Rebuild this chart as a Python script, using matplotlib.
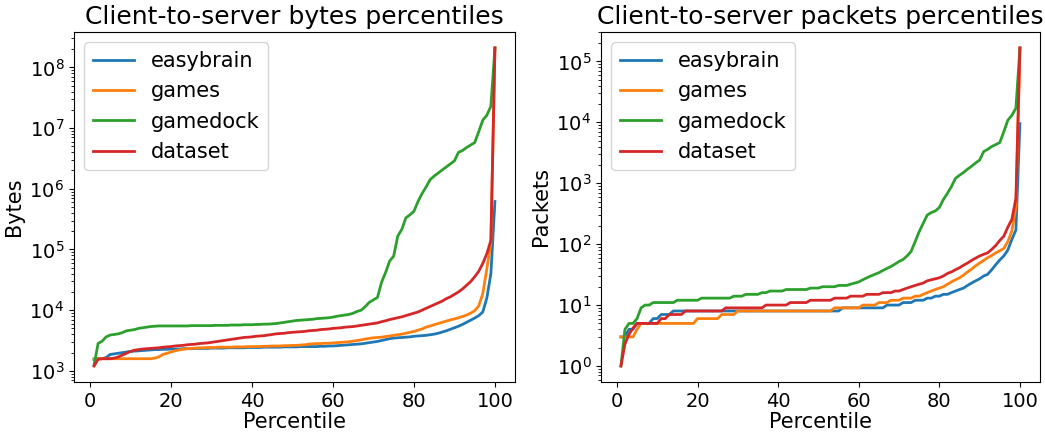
import numpy as np
import matplotlib
matplotlib.use("Agg")
import matplotlib.pyplot as plt

# percentiles 1..100
percentiles = list(range(1, 101))
series_names = ["easybrain", "games", "gamedock", "dataset"]

# client-to-server bytes as log10(bytes)
easybrain_bytes_log10 = [
    3.19, 3.20, 3.20, 3.22, 3.27, 3.28, 3.29, 3.30, 3.31, 3.32,
    3.325, 3.33, 3.335, 3.34, 3.345, 3.35, 3.35, 3.355, 3.355, 3.36,
    3.36, 3.36, 3.365, 3.365, 3.365, 3.37, 3.37, 3.37, 3.37, 3.375,
    3.375, 3.375, 3.375, 3.38, 3.38, 3.38, 3.38, 3.38, 3.385, 3.385,
    3.385, 3.385, 3.39, 3.39, 3.39, 3.39, 3.39, 3.395, 3.395, 3.395,
    3.395, 3.40, 3.40, 3.40, 3.40, 3.40, 3.405, 3.405, 3.41, 3.41,
    3.415, 3.42, 3.425, 3.43, 3.435, 3.44, 3.445, 3.455, 3.465, 3.475,
    3.485, 3.50, 3.515, 3.53, 3.54, 3.545, 3.55, 3.555, 3.56, 3.57,
    3.575, 3.58, 3.585, 3.595, 3.605, 3.62, 3.64, 3.66, 3.685, 3.71,
    3.735, 3.765, 3.80, 3.835, 3.87, 3.91, 3.97, 4.20, 4.60, 5.79]
games_bytes_log10 = [
    3.20, 3.20, 3.20, 3.20, 3.20, 3.20, 3.20, 3.20, 3.20, 3.20,
    3.20, 3.20, 3.20, 3.20, 3.20, 3.21, 3.23, 3.27, 3.29, 3.31,
    3.33, 3.345, 3.355, 3.365, 3.37, 3.375, 3.38, 3.38, 3.385, 3.385,
    3.385, 3.39, 3.39, 3.39, 3.39, 3.395, 3.395, 3.395, 3.40, 3.40,
    3.40, 3.40, 3.405, 3.405, 3.41, 3.41, 3.41, 3.415, 3.415, 3.42,
    3.42, 3.425, 3.43, 3.44, 3.445, 3.45, 3.45, 3.455, 3.455, 3.46,
    3.465, 3.47, 3.475, 3.48, 3.49, 3.50, 3.51, 3.525, 3.535, 3.545,
    3.55, 3.555, 3.565, 3.575, 3.585, 3.595, 3.605, 3.62, 3.635, 3.65,
    3.67, 3.69, 3.72, 3.74, 3.76, 3.78, 3.80, 3.82, 3.84, 3.855,
    3.875, 3.895, 3.92, 3.95, 3.99, 4.07, 4.27, 4.68, 5.10, 8.32]
gamedock_bytes_log10 = [
    3.09, 3.45, 3.49, 3.56, 3.59, 3.60, 3.61, 3.63, 3.66, 3.67,
    3.68, 3.70, 3.71, 3.72, 3.73, 3.735, 3.74, 3.74, 3.74, 3.74,
    3.74, 3.74, 3.74, 3.74, 3.745, 3.745, 3.745, 3.745, 3.745, 3.745,
    3.75, 3.75, 3.75, 3.75, 3.755, 3.755, 3.755, 3.76, 3.76, 3.76,
    3.765, 3.765, 3.77, 3.77, 3.775, 3.78, 3.79, 3.80, 3.81, 3.82,
    3.83, 3.835, 3.84, 3.845, 3.85, 3.86, 3.865, 3.87, 3.875, 3.885,
    3.90, 3.91, 3.92, 3.93, 3.95, 3.98, 4.00, 4.06, 4.13, 4.17,
    4.21, 4.46, 4.62, 4.81, 4.89, 5.22, 5.33, 5.52, 5.57, 5.63,
    5.79, 5.92, 6.03, 6.15, 6.21, 6.26, 6.31, 6.36, 6.41, 6.46,
    6.60, 6.63, 6.68, 6.72, 6.76, 6.94, 7.13, 7.21, 7.36, 8.32]
dataset_bytes_log10 = [
    3.08, 3.19, 3.20, 3.20, 3.20, 3.21, 3.23, 3.26, 3.29, 3.32,
    3.34, 3.35, 3.36, 3.365, 3.37, 3.375, 3.38, 3.39, 3.395, 3.40,
    3.41, 3.415, 3.42, 3.43, 3.435, 3.44, 3.45, 3.455, 3.46, 3.47,
    3.48, 3.49, 3.50, 3.51, 3.52, 3.53, 3.54, 3.55, 3.555, 3.56,
    3.57, 3.575, 3.58, 3.59, 3.60, 3.61, 3.615, 3.62, 3.63, 3.635,
    3.64, 3.645, 3.65, 3.66, 3.665, 3.67, 3.68, 3.685, 3.69, 3.70,
    3.705, 3.71, 3.72, 3.725, 3.73, 3.74, 3.75, 3.76, 3.77, 3.78,
    3.79, 3.81, 3.825, 3.845, 3.86, 3.875, 3.89, 3.91, 3.93, 3.95,
    3.97, 4.00, 4.03, 4.06, 4.09, 4.12, 4.15, 4.19, 4.22, 4.26,
    4.30, 4.35, 4.41, 4.47, 4.55, 4.64, 4.77, 4.93, 5.15, 8.32]

# client-to-server packets
easybrain_packets = [
    3, 3, 4, 4, 5, 5, 5, 5, 6, 6,
    7, 7, 7, 8, 8, 8, 8, 8, 8, 8,
    8, 8, 8, 8, 8, 8, 8, 8, 8, 8,
    8, 8, 8, 8, 8, 8, 8, 8, 8, 8,
    8, 8, 8, 8, 8, 8, 8, 8, 8, 8,
    8, 8, 8, 8, 8, 9, 9, 9, 9, 9,
    9, 9, 9, 9, 9, 9, 10, 10, 10, 10,
    11, 11, 11, 12, 12, 12, 13, 13, 14, 14,
    15, 15, 16, 17, 18, 19, 21, 23, 25, 27,
    30, 32, 38, 46, 55, 64, 80, 120, 170, 9500]
games_packets = [
    3, 3, 3, 3, 4, 5, 5, 5, 5, 5,
    5, 5, 5, 5, 5, 5, 5, 5, 5, 6,
    6, 6, 6, 6, 6, 7, 7, 7, 7, 8,
    8, 8, 8, 8, 8, 8, 8, 8, 8, 8,
    8, 8, 8, 8, 8, 8, 8, 8, 8, 8,
    8, 8, 8, 9, 9, 9, 9, 9, 9, 9,
    10, 10, 10, 10, 11, 11, 11, 12, 12, 12,
    13, 13, 13, 14, 14, 15, 16, 17, 18, 19,
    20, 22, 24, 26, 28, 31, 35, 39, 44, 49,
    54, 60, 65, 72, 78, 85, 110, 165, 400, 166000]
gamedock_packets = [
    1, 4, 5, 5, 6, 9, 10, 10, 11, 11,
    11, 11, 11, 11, 12, 12, 12, 12, 12, 12,
    13, 13, 13, 13, 13, 13, 13, 13, 14, 14,
    14, 15, 15, 15, 15, 16, 16, 17, 17, 17,
    17, 18, 18, 18, 18, 18, 18, 19, 19, 19,
    20, 20, 20, 20, 21, 21, 21, 22, 23, 24,
    26, 28, 30, 32, 34, 37, 40, 43, 47, 52,
    56, 64, 76, 110, 160, 220, 300, 330, 350, 400,
    540, 680, 880, 1200, 1350, 1500, 1700, 1900, 2150, 2400,
    3300, 3600, 4000, 4300, 4650, 7000, 10800, 13000, 17000, 166000]
dataset_packets = [
    1, 2.3, 3.3, 4.2, 5, 5, 5, 5, 5, 5,
    6, 6, 7, 7, 7, 7, 8, 8, 8, 8,
    8, 8, 8, 8, 8, 8, 9, 9, 9, 9,
    9, 9, 9, 9, 9, 9, 10, 10, 10, 10,
    10, 10, 11, 11, 11, 11, 11, 12, 12, 12,
    12, 12, 12, 13, 13, 13, 13, 14, 14, 14,
    14, 15, 15, 15, 15, 16, 16, 16, 17, 17,
    18, 19, 20, 21, 22, 23, 25, 26, 27, 28,
    30, 33, 35, 38, 41, 45, 49, 54, 59, 64,
    68, 72, 82, 95, 115, 135, 190, 255, 560, 166000]

bytes_series = [easybrain_bytes_log10, games_bytes_log10,
                gamedock_bytes_log10, dataset_bytes_log10]
packets_series = [easybrain_packets, games_packets,
                  gamedock_packets, dataset_packets]

plt.rcParams['font.size'] = 15
plt.rcParams['xtick.labelsize'] = 14
plt.rcParams['ytick.labelsize'] = 14

fig = plt.figure(figsize=(10.45, 4.33), dpi=100)
ax1 = fig.add_axes([0.0708, 0.118, 0.422, 0.808])
ax2 = fig.add_axes([0.5751, 0.118, 0.420, 0.808])

for name, vals in zip(series_names, bytes_series):
    ax1.plot(percentiles, 10 ** np.array(vals), label=name, linewidth=2)
ax1.set_yscale('log')
ax1.set_title("Client-to-server bytes percentiles", fontsize=18)
ax1.set_xlabel("Percentile", labelpad=1)
ax1.set_ylabel("Bytes")
ax1.legend(loc='upper left')

for name, vals in zip(series_names, packets_series):
    ax2.plot(percentiles, vals, label=name, linewidth=2)
ax2.set_yscale('log')
ax2.set_title("Client-to-server packets percentiles", fontsize=18)
ax2.set_xlabel("Percentile", labelpad=1)
ax2.set_ylabel("Packets")
ax2.legend(loc='upper left')

fig.savefig("out.png", dpi=100)
